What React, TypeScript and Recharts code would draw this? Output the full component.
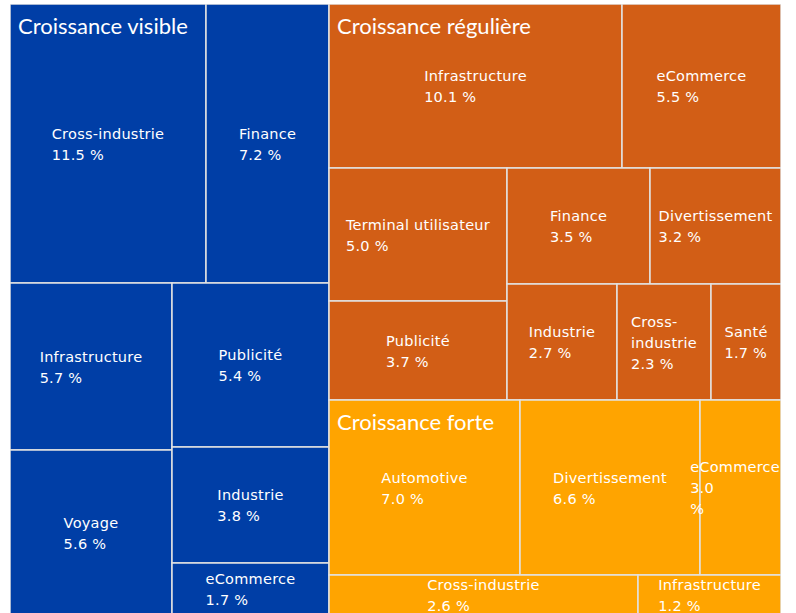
import React from "react";
import { Treemap } from "recharts";

// Three growth groups, each with its segments (share of total, %).
const groupTitles = ["Croissance visible", "Croissance régulière", "Croissance forte"];
const groupColors = ["#003ea6", "#d25e16", "#ffa400"];

const visibleNames = ["Cross-industrie", "Finance", "Infrastructure", "Voyage", "Publicité", "Industrie", "eCommerce"];
const visibleValues = [11.5, 7.2, 5.7, 5.6, 5.4, 3.8, 1.7];

const reguliereNames = [
  "Infrastructure", "eCommerce", "Terminal utilisateur", "Publicité", "Finance",
  "Divertissement", "Industrie", "Cross-industrie", "Santé",
];
const reguliereValues = [10.1, 5.5, 5.0, 3.7, 3.5, 3.2, 2.7, 2.3, 1.7];

const forteNames = ["Automotive", "Divertissement", "eCommerce", "Cross-industrie", "Infrastructure"];
const forteValues = [7.0, 6.6, 3.0, 2.6, 1.2];

// How the segments are grouped into blocks, so the squarify layout falls into the same tiles.
type Shape = number | Shape[];
const visibleShape: Shape = [[0, 1], [[2, 3], [4, 5, 6]]];
const reguliereShape: Shape = [[0, 1], [[2, 3], [[4, 5], [6, 7, 8]]]];
const forteTopShape: Shape = [0, 1, 2];
const forteBottomShape: Shape = [3, 4];

function nest(shape: Shape, names: string[], values: number[], group: number): any {
  if (typeof shape === "number") {
    return {
      name: names[shape],
      value: values[shape],
      group,
      title: shape === 0 ? groupTitles[group] : undefined,
    };
  }
  return { name: "", children: shape.map((s) => nest(s, names, values, group)) };
}

const data = [
  nest(visibleShape, visibleNames, visibleValues, 0),
  {
    name: "",
    children: [
      {
        name: "",
        children: [
          nest(reguliereShape, reguliereNames, reguliereValues, 1),
          nest(forteTopShape, forteNames, forteValues, 2),
        ],
      },
      nest(forteBottomShape, forteNames, forteValues, 2),
    ],
  },
];

const LABEL_FONT = '14.5px "DejaVu Sans"';
const LETTER = 0.25;
let ctx: CanvasRenderingContext2D | null = null;
function textWidth(s: string) {
  if (!ctx) ctx = document.createElement("canvas").getContext("2d");
  ctx!.font = LABEL_FONT;
  return ctx!.measureText(s).width + LETTER * s.length;
}

function wrap(tokens: string[], avail: number) {
  const lines: string[] = [];
  let line = "";
  tokens.forEach((t) => {
    const cand = line + t;
    if (line && textWidth(cand) > avail) {
      lines.push(line);
      line = t.trimStart();
    } else line = cand;
  });
  if (line) lines.push(line);
  return lines;
}

function Cell(props: any) {
  const { x, y, width, height, children, group, name, value, title } = props;
  if (children && children.length) return null;
  const avail = width - 10;
  const nameTokens: string[] = name.split(/(?<=-)|(?= )/);
  const valueTokens: string[] = `${value.toFixed(1)} %`.split(/(?= )/);
  const overflow = nameTokens.some((t) => textWidth(t.trim()) > avail);
  const lines = [...wrap(nameTokens, avail), ...(overflow ? valueTokens.map((t) => t.trim()) : wrap(valueTokens, avail))];
  const blockW = Math.max(...lines.map(textWidth));
  // a label wider than its tile keeps its right end inside the tile
  const left = blockW > width ? x + width - blockW - 1 : x + width / 2 - blockW / 2;
  const top = y + height / 2 - (lines.length * 21) / 2 + 16;
  return (
    <g>
      <rect x={x} y={y} width={width} height={height} fill={groupColors[group]} stroke="#e2e2e2" strokeWidth={1.5} />
      <text fill="#ffffff" style={{ font: LABEL_FONT, letterSpacing: LETTER }}>
        {lines.map((l, i) => (
          <tspan key={i} x={left} y={top + i * 21}>
            {l}
          </tspan>
        ))}
      </text>
      {title && (
        <text x={x + 8} y={y + 30} fill="#ffffff" style={{ fontFamily: "Lato", fontSize: 22 }}>
          {title}
        </text>
      )}
    </g>
  );
}

export default function App() {
  return (
    <div style={{ position: "absolute", left: 10, top: 4 }}>
      <Treemap
        width={771}
        height={611}
        data={data}
        dataKey="value"
        aspectRatio={1.23}
        isAnimationActive={false}
        content={<Cell />}
      />
    </div>
  );
}
